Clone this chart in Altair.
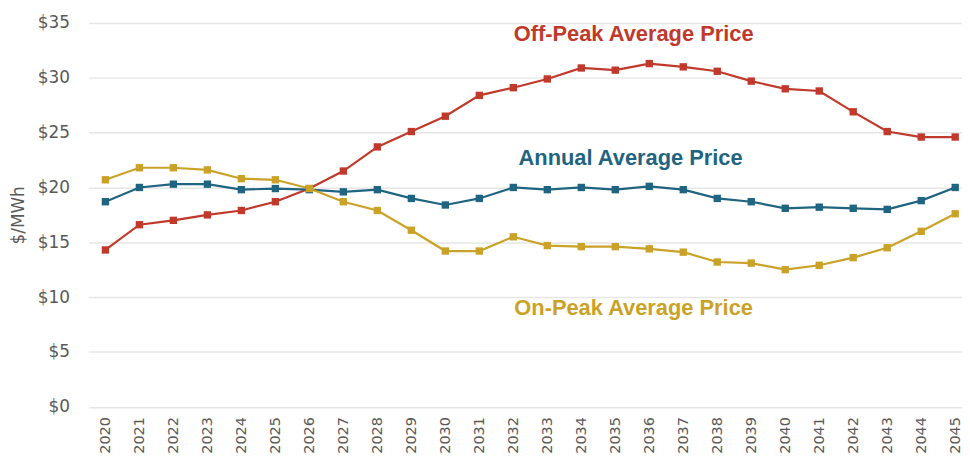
import altair as alt
import pandas as pd

years = list(range(2020, 2046))
off_peak = [14.3, 16.6, 17.0, 17.5, 17.9, 18.7, 19.9, 21.5, 23.7, 25.1, 26.5, 28.4, 29.1, 29.9, 30.9, 30.7,
            31.3, 31.0, 30.6, 29.7, 29.0, 28.8, 26.9, 25.1, 24.6, 24.6]
annual = [18.7, 20.0, 20.3, 20.3, 19.8, 19.9, 19.8, 19.6, 19.8, 19.0, 18.4, 19.0, 20.0, 19.8, 20.0, 19.8,
          20.1, 19.8, 19.0, 18.7, 18.1, 18.2, 18.1, 18.0, 18.8, 20.0]
on_peak = [20.7, 21.8, 21.8, 21.6, 20.8, 20.7, 19.9, 18.7, 17.9, 16.1, 14.2, 14.2, 15.5, 14.7, 14.6, 14.6,
           14.4, 14.1, 13.2, 13.1, 12.5, 12.9, 13.6, 14.5, 16.0, 17.6]

series_names = ["Off-Peak Average Price", "Annual Average Price", "On-Peak Average Price"]
series_colors = ["#c0392b", "#1f6480", "#c9a227"]
y_ticks = [0, 5, 10, 15, 20, 25, 30, 35]

# annotation anchors (data coordinates)
label_year = [2035.54, 2035.45, 2035.54]
label_value = [33.96, 22.64, 8.96]

rows = []
for name, vals in zip(series_names, [off_peak, annual, on_peak]):
    for yr, v in zip(years, vals):
        rows.append({"year": yr, "price": v, "series": name})
df = pd.DataFrame(rows)

labels_df = pd.DataFrame({"year": label_year, "price": label_value, "series": series_names})

font = "DejaVu Sans"
x_enc = alt.X(
    "year:Q",
    scale=alt.Scale(domain=[2019.5, 2045.2], nice=False, zero=False),
    axis=alt.Axis(values=years, format="d", labelAngle=-90, ticks=False, tickSize=0, domain=False,
                  grid=False, labelPadding=10, labelFont=font, labelFontSize=14.5, labelColor="#595959",
                  labelOverlap=False, labelFlush=False),
    title=None,
)
y_enc = alt.Y(
    "price:Q",
    scale=alt.Scale(domain=[0, 35], nice=False),
    axis=alt.Axis(values=y_ticks, labelExpr="'$' + datum.value", ticks=False, tickSize=0, domain=False,
                  grid=True, gridColor="#e6e6e6", gridWidth=1.5,
                  labelPadding=19, labelFont=font, labelFontSize=17, labelColor="#595959",
                  title="$/MWh", titleFont=font, titleFontSize=17, titleFontWeight="normal",
                  titleColor="#595959", titlePadding=10),
)
color = alt.Color("series:N", scale=alt.Scale(domain=series_names, range=series_colors), legend=None)

lines = alt.Chart(df).mark_line(strokeWidth=2.2).encode(x=x_enc, y=y_enc, color=color, detail="series:N")
points = alt.Chart(df).mark_point(filled=True, shape="square", size=55, opacity=1).encode(
    x=x_enc, y=y_enc, color=color)
texts = alt.Chart(labels_df).mark_text(font="Liberation Sans", fontSize=22, fontWeight="bold",
                                       align="center", baseline="middle").encode(
    x=x_enc, y=y_enc, text="series:N", color=color)

chart = alt.layer(lines, points, texts).properties(
    width=880, height=386.5,
    autosize=alt.AutoSizeParams(type="none"),
    padding={"left": 81, "top": 13.5, "right": 0, "bottom": 46},
    background="white",
).configure_view(stroke=None)

chart.save("out.html", embed_options={"renderer": "svg", "actions": False})
